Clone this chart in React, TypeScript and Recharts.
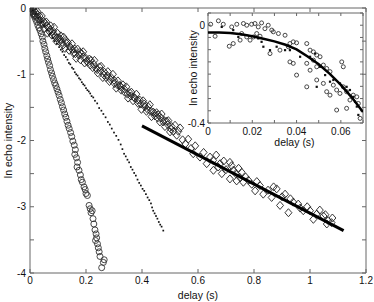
import { Scatter, ScatterChart, XAxis, YAxis } from 'recharts';

type Pt = [number, number];

// Main panel: three decays plus the straight fit
const slowDecay: Pt[] = [
  [0, 0], [0.004, -0.02], [0.006, -0.06], [0.009, -0.01], [0.012, -0.08], [0.015, -0.04],
  [0.018, -0.1], [0.021, -0.07], [0.024, -0.14], [0.027, -0.1], [0.03, -0.17],
  [0.034, -0.12], [0.038, -0.23], [0.042, -0.12], [0.046, -0.24], [0.05, -0.31],
  [0.054, -0.23], [0.058, -0.21], [0.062, -0.38], [0.066, -0.29], [0.07, -0.36],
  [0.074, -0.27], [0.078, -0.41], [0.082, -0.35], [0.086, -0.29], [0.09, -0.43],
  [0.094, -0.5], [0.098, -0.38], [0.102, -0.45], [0.106, -0.51], [0.11, -0.42],
  [0.115, -0.52], [0.12, -0.44], [0.125, -0.61], [0.13, -0.53], [0.135, -0.52],
  [0.14, -0.64], [0.145, -0.6], [0.15, -0.54], [0.155, -0.68], [0.16, -0.62],
  [0.165, -0.76], [0.17, -0.62], [0.175, -0.71], [0.18, -0.78], [0.185, -0.69],
  [0.19, -0.66], [0.195, -0.83], [0.2, -0.76], [0.206, -0.82], [0.212, -0.77],
  [0.218, -0.79], [0.224, -0.9], [0.23, -0.79], [0.236, -0.91], [0.242, -0.98],
  [0.248, -0.89], [0.254, -0.88], [0.26, -1.05], [0.266, -0.97], [0.272, -1.05],
  [0.278, -0.96], [0.284, -1.11], [0.29, -1.05], [0.296, -1.0], [0.302, -1.14],
  [0.308, -1.21], [0.314, -1.1], [0.32, -1.17], [0.326, -1.24], [0.332, -1.16],
  [0.338, -1.27], [0.344, -1.19], [0.35, -1.36], [0.356, -1.28], [0.362, -1.27],
  [0.368, -1.4], [0.374, -1.36], [0.38, -1.3], [0.386, -1.44], [0.392, -1.39],
  [0.398, -1.53], [0.404, -1.4], [0.41, -1.49], [0.416, -1.56], [0.422, -1.49],
  [0.428, -1.46], [0.434, -1.64], [0.44, -1.57], [0.446, -1.63], [0.452, -1.58],
  [0.458, -1.61], [0.464, -1.72], [0.47, -1.6], [0.476, -1.72], [0.482, -1.79],
  [0.488, -1.71], [0.494, -1.7], [0.5, -1.87], [0.506, -1.79], [0.512, -1.86],
  [0.518, -1.77], [0.524, -1.92], [0.53, -1.86], [0.536, -1.81],
  [0.545, -1.99], [0.555, -2.05], [0.565, -1.98], [0.575, -2.12], [0.583, -2.2],
  [0.59, -2.08], [0.607, -2.25], [0.62, -2.18], [0.631, -2.35], [0.643, -2.25],
  [0.654, -2.3], [0.655, -2.45], [0.665, -2.22], [0.672, -2.4], [0.679, -2.35],
  [0.685, -2.5], [0.692, -2.31], [0.7, -2.44], [0.714, -2.33], [0.714, -2.58],
  [0.72, -2.38], [0.726, -2.45], [0.735, -2.5], [0.738, -2.61], [0.745, -2.42],
  [0.75, -2.56], [0.756, -2.48], [0.762, -2.63], [0.77, -2.55], [0.78, -2.6],
  [0.792, -2.66], [0.804, -2.76], [0.81, -2.62], [0.821, -2.68], [0.833, -2.81],
  [0.85, -2.75], [0.863, -2.86], [0.87, -2.7], [0.881, -2.73], [0.893, -2.98],
  [0.9, -2.85], [0.911, -2.81], [0.923, -3.09], [0.93, -2.88], [0.94, -2.93],
  [0.958, -2.96], [0.965, -3.02], [0.976, -3.06], [0.99, -3.0], [1.0, -3.06],
  [1.012, -3.19], [1.024, -3.11], [1.035, -3.05], [1.048, -3.14], [1.055, -3.12],
  [1.06, -3.26], [1.065, -3.21], [1.077, -3.24], [1.08, -3.17],
];

// extra scatter in the dense early part of the slow decay
const slowDecayEarly: Pt[] = [
  [0.008, -0.04], [0.016, -0.11], [0.026, -0.05], [0.036, -0.18], [0.048, -0.2],
  [0.06, -0.27], [0.072, -0.33], [0.084, -0.39], [0.096, -0.45], [0.108, -0.47],
  [0.118, -0.56], [0.128, -0.49], [0.142, -0.58], [0.152, -0.63], [0.162, -0.69],
  [0.178, -0.67], [0.19, -0.74], [0.203, -0.8], [0.215, -0.86], [0.228, -0.85],
  [0.24, -0.93], [0.252, -0.95], [0.264, -1.01], [0.276, -1.02], [0.288, -1.08],
  [0.3, -1.09], [0.312, -1.16], [0.324, -1.19], [0.336, -1.22], [0.348, -1.3],
  [0.36, -1.33], [0.372, -1.35], [0.384, -1.39], [0.396, -1.45], [0.408, -1.45],
  [0.42, -1.53], [0.432, -1.56], [0.444, -1.59], [0.456, -1.66], [0.468, -1.66],
  [0.48, -1.7], [0.492, -1.76], [0.504, -1.83],
];

const fastDecay: Pt[] = [
  [0, 0], [0.004, -0.03], [0.008, -0.06], [0.012, -0.1], [0.016, -0.13], [0.02, -0.17],
  [0.024, -0.21], [0.028, -0.26], [0.032, -0.3], [0.036, -0.34], [0.04, -0.39],
  [0.044, -0.44], [0.046, -0.5], [0.05, -0.55], [0.053, -0.61], [0.056, -0.66],
  [0.06, -0.72], [0.063, -0.77], [0.066, -0.82], [0.07, -0.87], [0.073, -0.93],
  [0.077, -0.98], [0.08, -1.03], [0.084, -1.08], [0.088, -1.13], [0.092, -1.17],
  [0.096, -1.22], [0.1, -1.27], [0.104, -1.32], [0.108, -1.38], [0.112, -1.43],
  [0.116, -1.49], [0.12, -1.54], [0.124, -1.6], [0.128, -1.65], [0.132, -1.71],
  [0.136, -1.77], [0.14, -1.82], [0.145, -1.88], [0.149, -1.94], [0.153, -2.01],
  [0.158, -2.07], [0.162, -2.14], [0.16, -2.21], [0.166, -2.26], [0.17, -2.33],
  [0.168, -2.4], [0.175, -2.45], [0.18, -2.52], [0.183, -2.59], [0.187, -2.63],
  [0.193, -2.7], [0.197, -2.74], [0.2, -2.8], [0.205, -2.83], [0.211, -2.98],
  [0.215, -3.03], [0.218, -3.09], [0.222, -3.06], [0.225, -3.18], [0.228, -3.26],
  [0.232, -3.35], [0.236, -3.41], [0.238, -3.47], [0.234, -3.51], [0.241, -3.56],
  [0.244, -3.62], [0.247, -3.68], [0.25, -3.75], [0.256, -3.92], [0.265, -3.8],
  [0.262, -3.84],
];

const midDecay: Pt[] = [
  [0.01, -0.04], [0.02, -0.09], [0.03, -0.15], [0.04, -0.21], [0.05, -0.27], [0.06, -0.33],
  [0.07, -0.39], [0.08, -0.45], [0.088, -0.5], [0.096, -0.54], [0.104, -0.59],
  [0.11, -0.63], [0.116, -0.66], [0.122, -0.71], [0.128, -0.74], [0.134, -0.78],
  [0.139, -0.83], [0.144, -0.85], [0.15, -0.9], [0.155, -0.92], [0.16, -0.97],
  [0.165, -1.0], [0.17, -1.02], [0.175, -1.06], [0.18, -1.08], [0.185, -1.12],
  [0.19, -1.15], [0.195, -1.17], [0.2, -1.21], [0.205, -1.24], [0.21, -1.26],
  [0.215, -1.29], [0.22, -1.33], [0.226, -1.35], [0.232, -1.4], [0.24, -1.44],
  [0.247, -1.51], [0.255, -1.55], [0.262, -1.6], [0.27, -1.65], [0.278, -1.72],
  [0.285, -1.76], [0.292, -1.82], [0.3, -1.88], [0.308, -1.93], [0.316, -1.99],
  [0.324, -2.06], [0.33, -2.13], [0.336, -2.2], [0.342, -2.24], [0.348, -2.29],
  [0.354, -2.33], [0.36, -2.4], [0.366, -2.44], [0.372, -2.49], [0.378, -2.53],
  [0.384, -2.59], [0.39, -2.64], [0.396, -2.68], [0.402, -2.73], [0.408, -2.76],
  [0.414, -2.81], [0.42, -2.86], [0.426, -2.9], [0.432, -2.95], [0.436, -3.01],
  [0.44, -3.06], [0.445, -3.1], [0.45, -3.14], [0.455, -3.18], [0.46, -3.23],
  [0.465, -3.27], [0.47, -3.3], [0.476, -3.36],
];

const slowFit: Pt[] = [[0.4, -1.78], [1.12, -3.36]];

const X_TICKS = [0, 0.2, 0.4, 0.6, 0.8, 1, 1.2];
const Y_TICKS = [-4, -3.5, -3, -2.5, -2, -1.5, -1, -0.5, 0];

// Inset: early-time curvature of the slow decay
const insetCircles: Pt[] = [
  [0.0012, 0.004], [0.0047, 0.018], [0.0069, 0.004], [0.0032, -0.045], [0.0096, -0.086],
  [0.0107, -0.007], [0.013, 0.004], [0.0152, -0.034], [0.016, 0.007], [0.0175, 0],
  [0.0197, 0.004], [0.0212, 0.007], [0.0227, -0.007], [0.0242, 0.0095], [0.0257, -0.014],
  [0.0272, 0], [0.0175, -0.048], [0.019, -0.061], [0.0205, -0.048], [0.022, -0.034],
  [0.0235, -0.045], [0.0145, -0.061], [0.0114, -0.075], [0.0295, -0.027], [0.0318, -0.034],
  [0.0288, -0.02], [0.0348, -0.041], [0.037, -0.075], [0.0385, -0.068], [0.04, -0.072],
  [0.0363, -0.088], [0.0325, -0.102], [0.028, -0.116], [0.037, -0.15], [0.0385, -0.156],
  [0.04, -0.204], [0.0446, -0.075], [0.0461, -0.102], [0.0476, -0.109], [0.0491, -0.122],
  [0.0506, -0.129], [0.0446, -0.156], [0.0461, -0.184], [0.0476, -0.143], [0.0491, -0.17],
  [0.0521, -0.163], [0.0536, -0.177], [0.0551, -0.19], [0.0491, -0.224], [0.0521, -0.238],
  [0.0446, -0.252], [0.0566, -0.245], [0.0581, -0.265], [0.0596, -0.279], [0.0611, -0.252],
  [0.0626, -0.272], [0.0604, -0.15], [0.0611, -0.17], [0.0641, -0.306], [0.0656, -0.286],
  [0.0672, -0.293], [0.0679, -0.32], [0.0626, -0.34], [0.0581, -0.347], [0.0687, -0.381],
  [0.0551, -0.286], [0.0536, -0.272],
];

const insetSquares: Pt[] = [
  [0.0062, -0.007], [0.0114, -0.02], [0.0137, -0.048], [0.0227, -0.054], [0.0242, -0.068],
  [0.025, -0.088], [0.028, -0.102], [0.031, -0.088], [0.0348, -0.102], [0.037, -0.102],
  [0.0416, -0.129], [0.0461, -0.129], [0.0484, -0.116], [0.0506, -0.17], [0.0529, -0.204],
  [0.0491, -0.252], [0.0551, -0.231], [0.0566, -0.224], [0.0596, -0.238], [0.0626, -0.252],
  [0.0641, -0.265], [0.0656, -0.293], [0.0664, -0.313], [0.0672, -0.333], [0.0679, -0.367],
];

const insetFit: Pt[] = [
  [0, -0.03], [0.005, -0.03], [0.01, -0.032], [0.015, -0.037], [0.02, -0.045],
  [0.025, -0.055], [0.03, -0.066], [0.035, -0.08], [0.04, -0.099], [0.045, -0.128],
  [0.05, -0.16], [0.055, -0.199], [0.06, -0.244], [0.065, -0.296], [0.07, -0.355],
];

const INSET_X_TICKS = [0, 0.01, 0.02, 0.03, 0.04, 0.05, 0.06, 0.07];
const INSET_X_LABELS = [0, 0.02, 0.04, 0.06];
const INSET_Y_TICKS = [-0.4, -0.35, -0.3, -0.25, -0.2, -0.15, -0.1, -0.05, 0, 0.05];
const INSET_Y_LABELS = [-0.4, 0];

const toRows = (pts: Pt[]) => pts.map(([x, y]) => ({ x, y }));

const FRAME = '#666';
const INK = '#111';
const tickFont = { fontSize: 10, fill: INK };
const blank = () => '';

// Marker shapes, MATLAB-like
const OpenDiamond = (p: any) => (
  <path
    d={`M${p.cx},${p.cy - 4}L${p.cx + 3.5},${p.cy}L${p.cx},${p.cy + 4}L${p.cx - 3.5},${p.cy}Z`}
    fill="none"
    stroke="#222"
    strokeWidth={0.9}
  />
);
const OpenCircle = (r: number, color: string) => (p: any) => (
  <circle cx={p.cx} cy={p.cy} r={r} fill="none" stroke={color} strokeWidth={0.9} />
);
const SmallSquare = (s: number) => (p: any) => (
  <rect x={p.cx - s / 2} y={p.cy - s / 2} width={s} height={s} fill={INK} />
);
const NoMarker = () => <g />;

function MainPanel() {
  return (
    <ScatterChart width={374} height={302} margin={{ top: 0, right: 0, bottom: 0, left: 0 }}>
      <XAxis
        type="number"
        dataKey="x"
        domain={[0, 1.2]}
        ticks={X_TICKS}
        interval={0}
        allowDataOverflow
        height={29}
        tickSize={-4}
        tickMargin={8}
        tick={tickFont}
        stroke={FRAME}
        label={{ value: 'delay (s)', position: 'insideBottom', offset: 3, fontSize: 10.5, fill: INK }}
      />
      <XAxis
        xAxisId="top"
        orientation="top"
        type="number"
        dataKey="x"
        domain={[0, 1.2]}
        ticks={X_TICKS}
        interval={0}
        allowDataOverflow
        height={8}
        tickSize={-4}
        tickFormatter={blank}
        stroke={FRAME}
      />
      <YAxis
        type="number"
        dataKey="y"
        domain={[-4, 0]}
        ticks={Y_TICKS}
        interval={0}
        allowDataOverflow
        width={30}
        tickSize={-4}
        tickMargin={8}
        tick={tickFont}
        tickFormatter={(v: number) => (Number.isInteger(v) ? String(v) : '')}
        stroke={FRAME}
        label={{
          value: 'ln echo intensity',
          angle: -90,
          position: 'insideLeft',
          offset: 8,
          fontSize: 10.5,
          fill: INK,
          style: { textAnchor: 'middle' },
        }}
      />
      <YAxis
        yAxisId="right"
        orientation="right"
        type="number"
        dataKey="y"
        domain={[-4, 0]}
        ticks={Y_TICKS}
        interval={0}
        allowDataOverflow
        width={8}
        tickSize={-4}
        tickFormatter={blank}
        stroke={FRAME}
      />
      <Scatter data={toRows(slowDecay)} shape={OpenDiamond} isAnimationActive={false} />
      <Scatter data={toRows(slowDecayEarly)} shape={OpenDiamond} isAnimationActive={false} />
      <Scatter data={toRows(fastDecay)} shape={OpenCircle(3, '#333')} isAnimationActive={false} />
      <Scatter data={toRows(midDecay)} shape={SmallSquare(1.7)} isAnimationActive={false} />
      <Scatter
        data={toRows(slowFit)}
        shape={NoMarker}
        line={{ stroke: '#000', strokeWidth: 3 }}
        isAnimationActive={false}
      />
    </ScatterChart>
  );
}

function InsetPanel() {
  return (
    <ScatterChart width={194} height={160} margin={{ top: 0, right: 0, bottom: 0, left: 0 }}>
      <XAxis
        type="number"
        dataKey="x"
        domain={[0, 0.07]}
        ticks={INSET_X_TICKS}
        interval={0}
        allowDataOverflow
        height={37}
        tickSize={-3}
        tickMargin={8}
        tick={tickFont}
        tickFormatter={(v: number) => (INSET_X_LABELS.includes(v) ? String(v) : '')}
        stroke={FRAME}
        label={{ value: 'delay (s)', position: 'insideBottom', offset: 14, dx: 9, fontSize: 10.5, fill: INK }}
      />
      <XAxis
        xAxisId="top"
        orientation="top"
        type="number"
        dataKey="x"
        domain={[0, 0.07]}
        ticks={INSET_X_TICKS}
        interval={0}
        allowDataOverflow
        height={13}
        tickSize={-3}
        tickFormatter={blank}
        stroke={FRAME}
      />
      <YAxis
        type="number"
        dataKey="y"
        domain={[-0.4, 0.05]}
        ticks={INSET_Y_TICKS}
        interval={0}
        allowDataOverflow
        width={28}
        tickSize={-3}
        tickMargin={6}
        tick={tickFont}
        tickFormatter={(v: number) => (INSET_Y_LABELS.includes(v) ? String(v) : '')}
        stroke={FRAME}
        label={{
          value: 'ln echo intensity',
          angle: -90,
          position: 'insideLeft',
          offset: 13,
          fontSize: 10.5,
          fill: INK,
          style: { textAnchor: 'middle' },
        }}
      />
      <YAxis
        yAxisId="right"
        orientation="right"
        type="number"
        dataKey="y"
        domain={[-0.4, 0.05]}
        ticks={INSET_Y_TICKS}
        interval={0}
        allowDataOverflow
        width={11}
        tickSize={-3}
        tickFormatter={blank}
        stroke={FRAME}
      />
      <Scatter data={toRows(insetCircles)} shape={OpenCircle(2, '#333')} isAnimationActive={false} />
      <Scatter data={toRows(insetSquares)} shape={SmallSquare(2.2)} isAnimationActive={false} />
      <Scatter
        data={toRows(insetFit)}
        shape={NoMarker}
        line={{ stroke: '#000', strokeWidth: 2.5 }}
        isAnimationActive={false}
      />
    </ScatterChart>
  );
}

export default function App() {
  return (
    <div style={styles.page}>
      <MainPanel />
      <div style={styles.inset}>
        <InsetPanel />
      </div>
    </div>
  );
}

const styles: Record<string, React.CSSProperties> = {
  page: {
    position: 'absolute',
    left: 0,
    top: 0,
    width: 374,
    height: 302,
    background: '#ffffff',
    fontFamily: '"Liberation Sans", Arial, sans-serif',
  },
  inset: {
    position: 'absolute',
    left: 180,
    top: 0,
    width: 194,
    height: 160,
  },
};
